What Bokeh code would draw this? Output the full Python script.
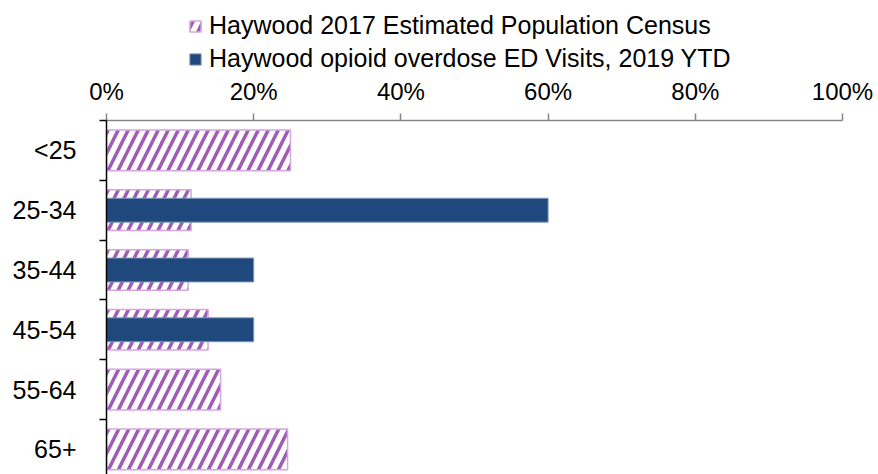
from bokeh.plotting import figure
from bokeh.layouts import column
from bokeh.models import (Range1d, FixedTicker, NumeralTickFormatter, Legend,
                          LegendItem, ColumnDataSource)
from bokeh.embed import file_html
from bokeh.resources import INLINE

categories = ["<25", "25-34", "35-44", "45-54", "55-64", "65+"]
census_pct = [0.250, 0.115, 0.111, 0.138, 0.155, 0.246]
ed_pct = [0.0, 0.60, 0.20, 0.20, 0.0, 0.0]
x_ticks = [0.0, 0.2, 0.4, 0.6, 0.8, 1.0]
series_names = ["Haywood 2017 Estimated Population Census",
                "Haywood opioid overdose ED Visits, 2019 YTD"]

FONT = "Liberation Sans"
positions = list(range(len(categories)))

CENSUS_STYLE = dict(fill_color="white", hatch_pattern="/", hatch_color="#A05CB4",
                    hatch_scale=20, hatch_weight=3.5,
                    line_color="#D7A6E2", line_width=1.5)
ED_STYLE = dict(fill_color="#1F497D", line_color="#7D98BC", line_width=1)

census_src = ColumnDataSource(dict(y=positions, right=census_pct))
ed_y = [pos for pos, v in zip(positions, ed_pct) if v > 0]
ed_v = [v for v in ed_pct if v > 0]
ed_src = ColumnDataSource(dict(y=ed_y, right=ed_v))

# ---------------- main chart ----------------
p = figure(width=876, height=400,
           x_range=Range1d(0, 1), y_range=Range1d(5.42, -0.5),
           x_axis_location="above", y_axis_location="left",
           output_backend="svg", toolbar_location=None,
           min_border_left=106, min_border_right=34,
           min_border_top=46, min_border_bottom=0)
p.outline_line_color = None
p.xgrid.visible = False
p.ygrid.visible = False
p.background_fill_color = "white"
p.border_fill_color = "white"

p.hbar(y="y", right="right", left=0, height=0.68, source=census_src, **CENSUS_STYLE)
p.hbar(y="y", right="right", left=0, height=0.40, source=ed_src, **ED_STYLE)

# top (x) axis
xa = p.xaxis[0]
xa.ticker = FixedTicker(ticks=x_ticks)
xa.formatter = NumeralTickFormatter(format="0%")
xa.axis_line_color = "#868686"
xa.axis_line_width = 1.5
xa.major_tick_line_color = "#868686"
xa.major_tick_line_width = 1.5
xa.major_tick_out = 7
xa.major_tick_in = 0
xa.minor_tick_line_color = None
xa.major_label_text_font = FONT
xa.major_label_text_font_size = "24px"
xa.major_label_text_color = "black"
xa.major_label_standoff = 9

# left (y) axis
ya = p.yaxis[0]
ya.ticker = FixedTicker(ticks=positions,
                        minor_ticks=[v - 0.5 for v in positions])
ya.major_label_overrides = {pos: cat for pos, cat in zip(positions, categories)}
ya.axis_line_color = "black"
ya.axis_line_width = 1.5
ya.major_tick_line_color = None
ya.major_tick_out = 0
ya.major_tick_in = 0
ya.minor_tick_line_color = "black"
ya.minor_tick_line_width = 1.5
ya.minor_tick_out = 7
ya.minor_tick_in = 0
ya.major_label_text_font = FONT
ya.major_label_text_font_size = "25px"
ya.major_label_text_color = "black"
ya.major_label_standoff = 23

# ---------------- legend strip (same series, renderers hidden) ----------------
lg = figure(width=876, height=74, x_range=Range1d(0, 1), y_range=Range1d(100, 101),
            x_axis_location=None, y_axis_location=None,
            output_backend="svg", toolbar_location=None, min_border=0)
lg.outline_line_color = None
lg.xgrid.visible = False
lg.ygrid.visible = False
lr_census = lg.hbar(y="y", right="right", left=0, height=0.68,
                    source=census_src, visible=False, **CENSUS_STYLE)
lr_ed = lg.hbar(y="y", right="right", left=0, height=0.40,
                source=ed_src, visible=False, **ED_STYLE)

legend = Legend(items=[LegendItem(label=series_names[0], renderers=[lr_census]),
                       LegendItem(label=series_names[1], renderers=[lr_ed])],
                orientation="vertical", location=(82, 1))
legend.label_text_font = FONT
legend.label_text_font_size = "25px"
legend.label_text_color = "black"
legend.glyph_width = 14
legend.glyph_height = 14
legend.label_standoff = 7
legend.spacing = 4
legend.padding = 0
legend.margin = 0
legend.border_line_color = None
legend.background_fill_alpha = 0
legend.inactive_fill_alpha = 0
lg.add_layout(legend)

layout = column(lg, p, spacing=0)
open("out.html", "w").write(file_html(layout, INLINE))
